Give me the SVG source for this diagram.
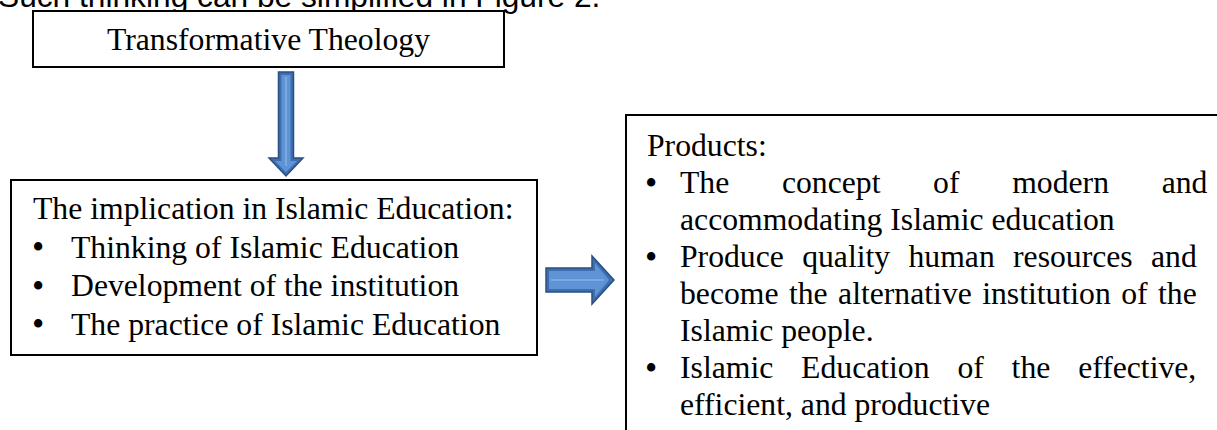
<svg xmlns="http://www.w3.org/2000/svg" width="1217" height="430" viewBox="0 0 1217 430">
  <style>
    .box { fill: #ffffff; stroke: #000000; stroke-width: 2; }
    .t { font-family: "Liberation Serif", "Times New Roman", serif; font-size: 31.7px; fill: #000000; }
    .b { font-size: 35px; }
    .body { font-family: "Liberation Sans", Arial, sans-serif; font-size: 31.7px; fill: #000000; }
    .arrowOuter { fill: #3f6eae; stroke: #2b4f82; stroke-width: 1.5; }
    .arrowInner { fill: #5e93d6; }
    .arrowCore { fill: none; stroke: #86b1e6; stroke-width: 1.5; }
  </style>
  <rect width="1217" height="430" fill="#ffffff"/>

  <text class="body" x="-2" y="7">Such thinking can be simplified in Figure 2.</text>

  <g id="node-theology">
    <rect class="box" x="33" y="11" width="471" height="56"/>
    <text class="t" x="268.5" y="49.5" text-anchor="middle">Transformative Theology</text>
  </g>

  <g id="node-implication">
    <rect class="box" x="11" y="180" width="526" height="175"/>
    <text class="t" x="33" y="219">The implication in Islamic Education:</text>
    <text class="t" y="257.5"><tspan class="b" x="32" dy="1.5">•</tspan><tspan x="71" dy="-1.5">Thinking of Islamic Education</tspan></text>
    <text class="t" y="296"><tspan class="b" x="32" dy="1.5">•</tspan><tspan x="71" dy="-1.5">Development of the institution</tspan></text>
    <text class="t" y="334.5"><tspan class="b" x="32" dy="1.5">•</tspan><tspan x="71" dy="-1.5">The practice of Islamic Education</tspan></text>
  </g>

  <g id="node-products">
    <rect class="box" x="626" y="115" width="600" height="400"/>
    <text class="t" x="647" y="156">Products:</text>
    <text class="t" y="193"><tspan class="b" x="645" dy="1.5">•</tspan><tspan x="680" dy="-1.5" word-spacing="44.74">The concept of modern and</tspan></text>
    <text class="t" x="680" y="230">accommodating Islamic education</text>
    <text class="t" y="267"><tspan class="b" x="645" dy="1.5">•</tspan><tspan x="680" dy="-1.5" word-spacing="10.4">Produce quality human resources and</tspan></text>
    <text class="t" x="680" y="304" word-spacing="2.5">become the alternative institution of the</text>
    <text class="t" x="680" y="341">Islamic people.</text>
    <text class="t" y="378"><tspan class="b" x="645" dy="1.5">•</tspan><tspan x="680" dy="-1.5" word-spacing="19.9">Islamic Education of the effective,</tspan></text>
    <text class="t" x="680" y="415">efficient, and productive</text>
  </g>

  <g id="connectors">
    <g id="arrow-down">
      <polygon class="arrowOuter" points="278.5,72 293.5,72 293.5,158 303,158 286,176 269,158 278.5,158"/>
      <polygon class="arrowInner" points="281.5,75 290.5,75 290.5,161 297,161 286,172 275,161 281.5,161"/>
      <line class="arrowCore" x1="286" y1="77" x2="286" y2="166"/>
    </g>
    <g id="arrow-right">
      <polygon class="arrowOuter" points="546,268 592,268 592,256 614,280 592,304 592,292 546,292"/>
      <polygon class="arrowInner" points="549,271 595,271 595,263 609,280 595,297 595,289 549,289"/>
      <line class="arrowCore" x1="551" y1="280" x2="604" y2="280"/>
    </g>
  </g>
</svg>
